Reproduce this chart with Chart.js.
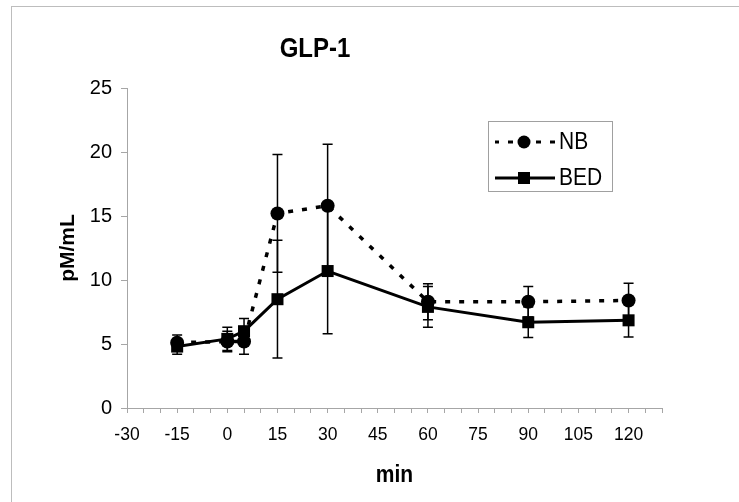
<!DOCTYPE html>
<html>
<head>
<meta charset="utf-8">
<title>GLP-1</title>
<script src="https://cdn.jsdelivr.net/npm/chart.js@4/dist/chart.umd.min.js"></script>
<style>
  html, body { margin: 0; padding: 0; background: #fff; }
  #wrap { width: 739px; height: 502px; }
</style>
</head>
<body>
<div id="wrap"><canvas id="glp-chart" width="739" height="502"></canvas></div>
<script>
"use strict";
// time points (min) and group means / error values
const times = [-15, 0, 5, 15, 30, 60, 90, 120];
const nbValues = [5.1, 5.2, 5.2, 15.2, 15.8, 8.3, 8.3, 8.4];
const nbErrors = [0.6, 0.8, 1.0, 4.6, 4.8, 1.4, 1.2, 1.35];
const bedValues = [4.8, 5.4, 6.0, 8.5, 10.7, 7.9, 6.7, 6.85];
const bedErrors = [0.6, 0.9, 1.0, 4.6, 4.9, 1.6, 1.2, 1.3];
const xTicks = [-30, 130, 5];   // min, max, step
const yTicks = [0, 25, 5];

const FONT = "'Liberation Sans', Arial, sans-serif";
const AXIS_GRAY = "#a6a6a6";

function toPoints(values) {
    return times.map((t, i) => ({ x: t, y: values[i] }));
}

// text drawn a little taller than wide, like the original export
function tallText(ctx, text, x, y, stretch) {
    ctx.save();
    ctx.translate(x, y);
    ctx.scale(1, stretch);
    ctx.fillText(text, 0, 0);
    ctx.restore();
}

// draws the vertical error bars with small caps
const errorBars = {
    id: "errorBars",
    afterDatasetsDraw(chart) {
        const { ctx } = chart;
        const xs = chart.scales.x;
        const ys = chart.scales.y;
        const sets = [[nbValues, nbErrors], [bedValues, bedErrors]];
        ctx.save();
        ctx.strokeStyle = "#000";
        ctx.lineWidth = 1.5;
        sets.forEach(([vals, errs]) => {
            times.forEach((t, i) => {
                const px = xs.getPixelForValue(t);
                const top = ys.getPixelForValue(vals[i] + errs[i]);
                const bot = ys.getPixelForValue(vals[i] - errs[i]);
                ctx.beginPath();
                ctx.moveTo(px, top);
                ctx.lineTo(px, bot);
                ctx.moveTo(px - 5, top);
                ctx.lineTo(px + 5, top);
                ctx.moveTo(px - 5, bot);
                ctx.lineTo(px + 5, bot);
                ctx.stroke();
            });
        });
        ctx.restore();
    }
};

// title, axis titles, legend box and outer frame
const decorations = {
    id: "decorations",
    afterDraw(chart) {
        const { ctx } = chart;
        const area = chart.chartArea;
        ctx.save();
        // outer frame (only left/top edges fall inside the picture)
        ctx.strokeStyle = "#bdbdbd";
        ctx.lineWidth = 1;
        ctx.strokeRect(11.5, 6.5, 800, 600);

        ctx.fillStyle = "#000";
        ctx.textAlign = "center";
        ctx.textBaseline = "middle";
        ctx.font = "bold 24px " + FONT;
        tallText(ctx, "GLP-1", 315, 50, 1.12);

        ctx.font = "bold 21px " + FONT;
        tallText(ctx, "min", (area.left + area.right) / 2, 476, 1.1);

        ctx.save();
        ctx.translate(68, (area.top + area.bottom) / 2);
        ctx.rotate(-Math.PI / 2);
        ctx.fillText("pM/mL", 0, 0);
        ctx.restore();

        // legend
        ctx.strokeStyle = "#a0a0a0";
        ctx.strokeRect(488.5, 121.5, 124, 70);
        const rows = [
            { label: "NB", y: 142, dash: [5, 9], shape: "circle" },
            { label: "BED", y: 178, dash: [], shape: "rect" }
        ];
        rows.forEach(r => {
            ctx.strokeStyle = "#000";
            ctx.lineWidth = 3;
            ctx.setLineDash(r.dash);
            ctx.lineDashOffset = r.dash.length ? 1 : 0;
            ctx.beginPath();
            ctx.moveTo(495, r.y);
            ctx.lineTo(555, r.y);
            ctx.stroke();
            ctx.setLineDash([]);
            ctx.fillStyle = "#000";
            if (r.shape === "circle") {
                ctx.beginPath();
                ctx.arc(524, r.y, 6.5, 0, Math.PI * 2);
                ctx.fill();
            } else {
                ctx.fillRect(518, r.y - 6, 12, 12);
            }
            ctx.textAlign = "left";
            ctx.font = "21px " + FONT;
            tallText(ctx, r.label, 559, r.y + 1, 1.1);
        });
        ctx.restore();
    }
};

const ctx = document.getElementById("glp-chart");
new Chart(ctx, {
    type: "line",
    data: {
        datasets: [
            {
                label: "NB",
                data: toPoints(nbValues),
                borderColor: "#000",
                backgroundColor: "#000",
                borderWidth: 3.5,
                borderDash: [5, 9],
                pointStyle: "circle",
                pointRadius: 7,
                pointBorderWidth: 0,
                order: 2
            },
            {
                label: "BED",
                data: toPoints(bedValues),
                borderColor: "#000",
                backgroundColor: "#000",
                borderWidth: 3,
                pointStyle: "rect",
                pointRadius: 8.5,
                pointBorderWidth: 0,
                order: 1
            }
        ]
    },
    options: {
        responsive: false,
        animation: false,
        layout: { padding: { top: 88, right: 77, left: 0, bottom: 0 } },
        plugins: {
            legend: { display: false },
            title: { display: false },
            tooltip: { enabled: false }
        },
        scales: {
            x: {
                type: "linear",
                min: xTicks[0],
                max: xTicks[1],
                afterFit: (s) => { s.height = 94; },
                ticks: {
                    stepSize: xTicks[2],
                    autoSkip: false,
                    maxRotation: 0,
                    padding: 12,
                    color: "#000",
                    font: { family: FONT, size: 17.5 },
                    callback: (v) => (v % 15 === 0 ? String(v) : "")
                },
                grid: { drawOnChartArea: false, drawTicks: true, tickLength: 5, color: AXIS_GRAY },
                border: { color: AXIS_GRAY, width: 1 }
            },
            y: {
                min: yTicks[0],
                max: yTicks[1],
                afterFit: (s) => { s.width = 127; },
                ticks: {
                    stepSize: yTicks[2],
                    padding: 9,
                    color: "#000",
                    font: { family: FONT, size: 20 }
                },
                grid: { drawOnChartArea: false, drawTicks: true, tickLength: 6, color: AXIS_GRAY },
                border: { color: AXIS_GRAY, width: 1 }
            }
        }
    },
    plugins: [errorBars, decorations]
});
</script>
</body>
</html>
